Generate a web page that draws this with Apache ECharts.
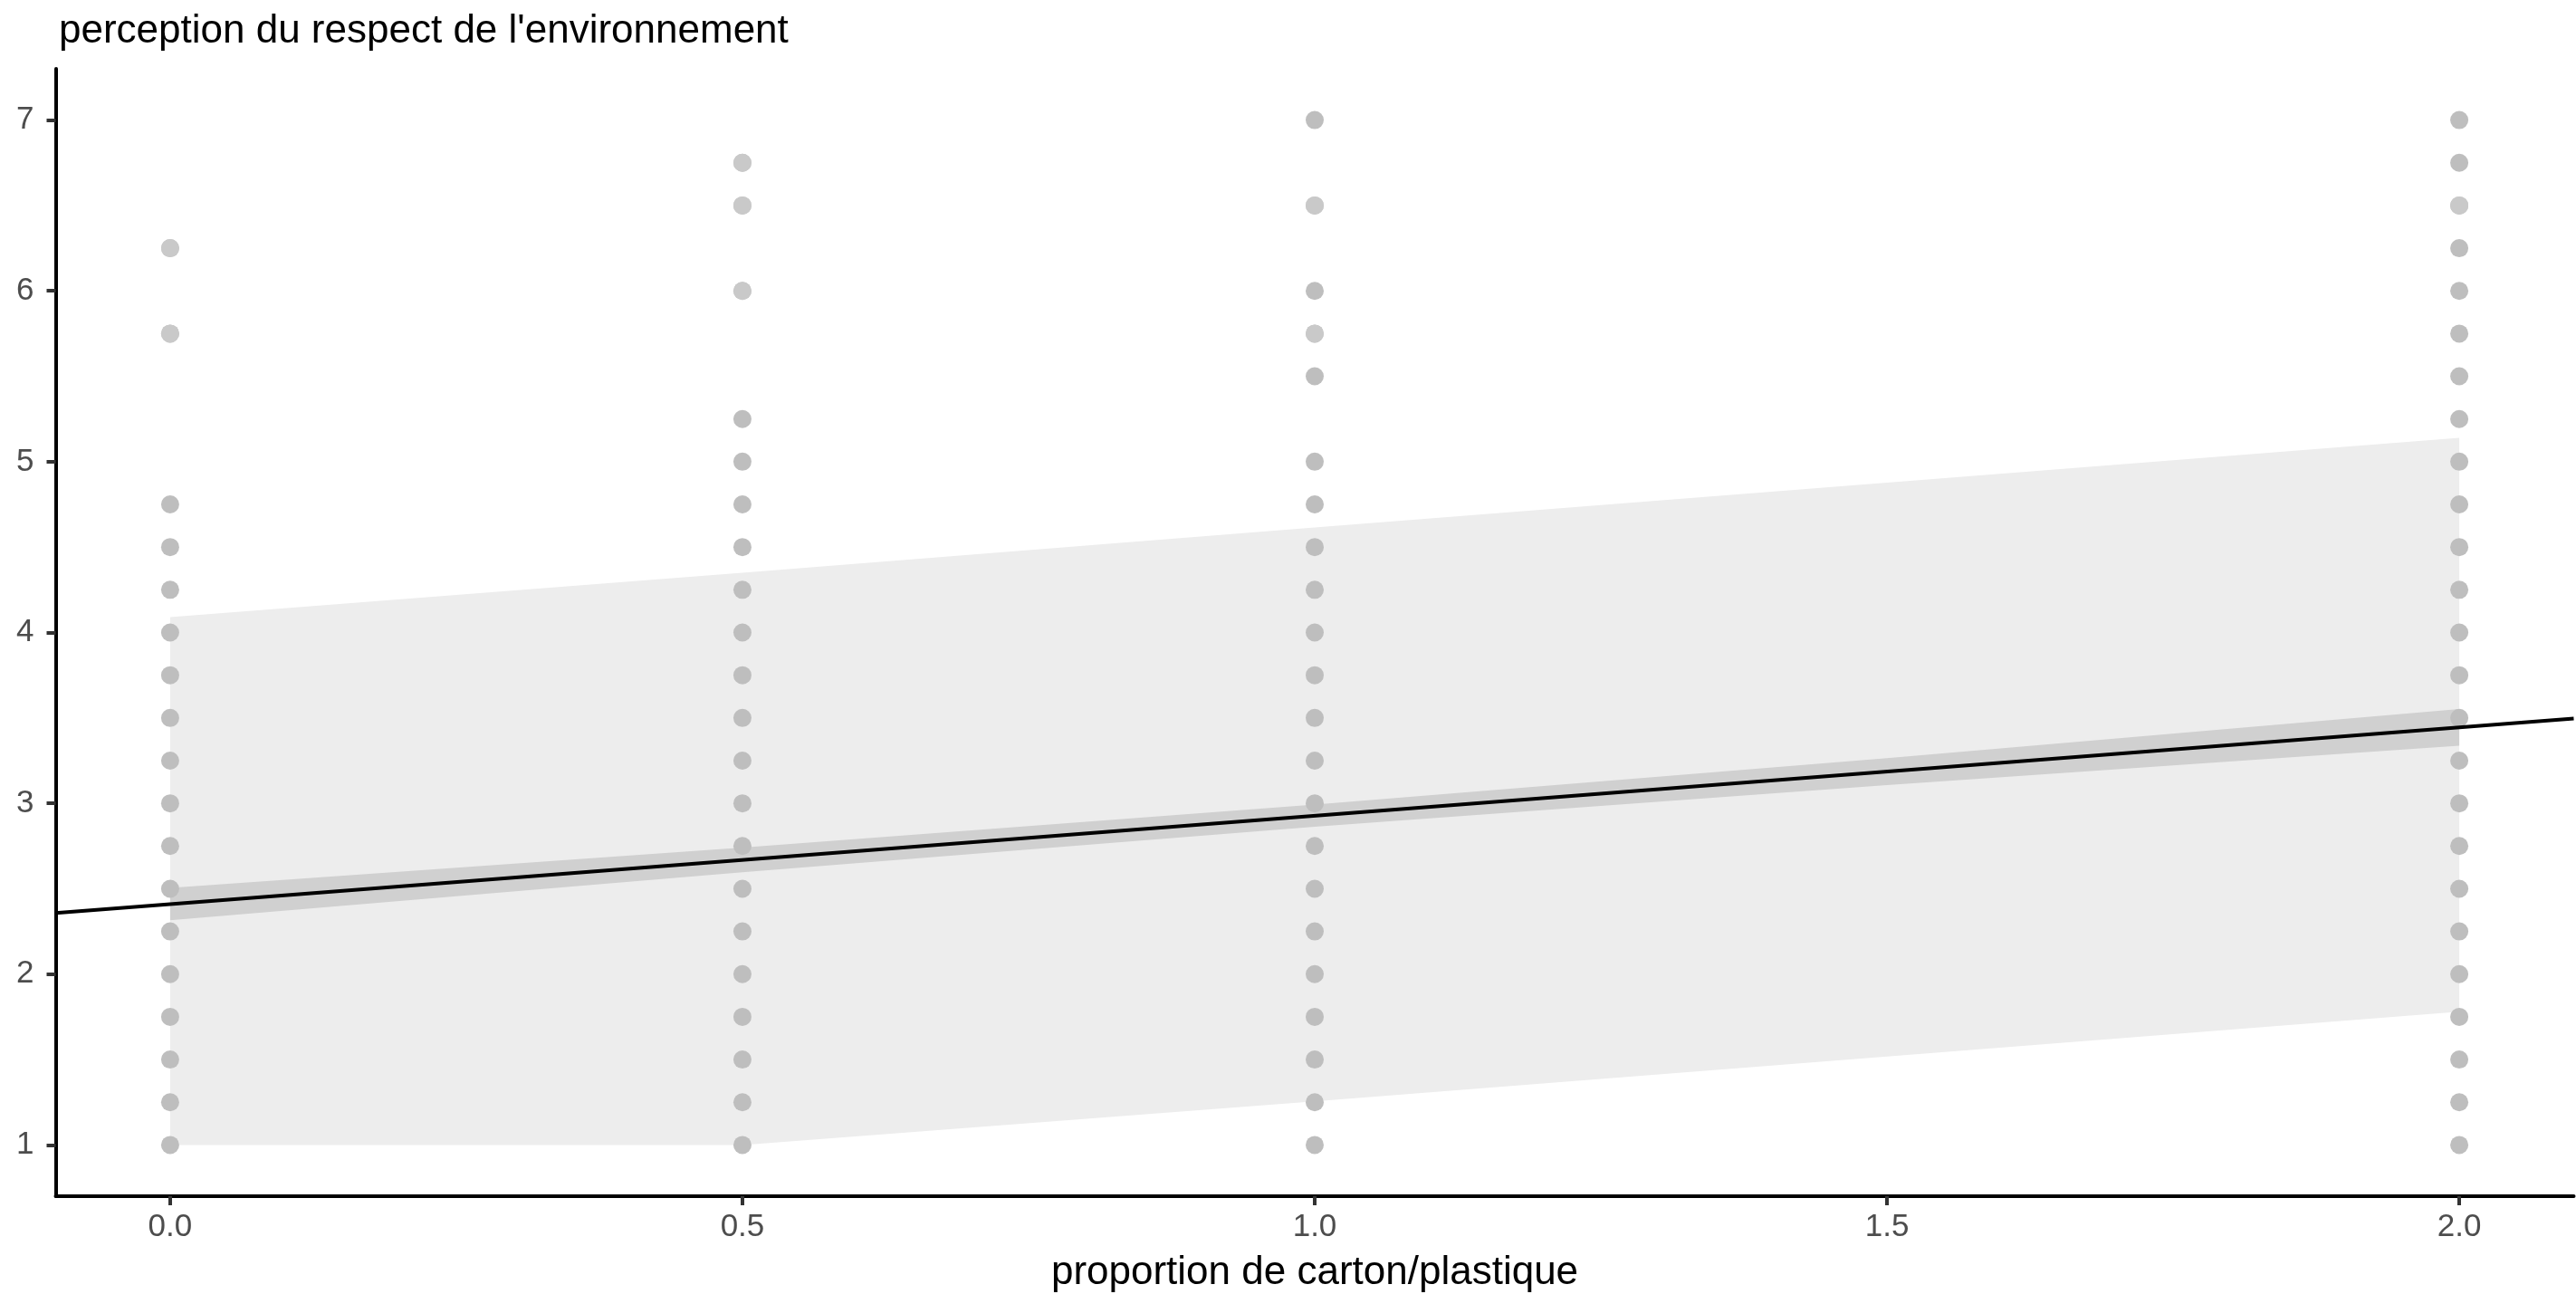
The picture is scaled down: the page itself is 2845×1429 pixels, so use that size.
<!DOCTYPE html>
<html><head><meta charset="utf-8">
<script src="https://cdn.jsdelivr.net/npm/echarts@6/dist/echarts.min.js"></script>
<style>html,body{margin:0;padding:0;background:#fff}#c{width:2845px;height:1429px}</style>
</head><body><div id="c"></div>
<script>
// ---- data ----
const titleText = "perception du respect de l'environnement";
const xTitle = "proportion de carton/plastique";
const xTicks = [0, 0.5, 1, 1.5, 2];
const xTickLabels = ['0.0', '0.5', '1.0', '1.5', '2.0'];
const yTicks = [1, 2, 3, 4, 5, 6, 7];
const yTickLabels = ['1', '2', '3', '4', '5', '6', '7'];

const groupX = [0, 0.5, 1, 2];
const groupAt0 = [6.25, 5.75, 4.75, 4.5, 4.25, 4, 3.75, 3.5, 3.25, 3, 2.75, 2.5, 2.25, 2, 1.75, 1.5, 1.25, 1];
const groupAt05 = [6.75, 6.5, 6, 5.25, 5, 4.75, 4.5, 4.25, 4, 3.75, 3.5, 3.25, 3, 2.75, 2.5, 2.25, 2, 1.75, 1.5, 1.25, 1];
const groupAt1 = [7, 6.5, 6, 5.75, 5.5, 5, 4.75, 4.5, 4.25, 4, 3.75, 3.5, 3.25, 3, 2.75, 2.5, 2.25, 2, 1.75, 1.5, 1.25, 1];
const groupAt2 = [7, 6.75, 6.5, 6.25, 6, 5.75, 5.5, 5.25, 5, 4.75, 4.5, 4.25, 4, 3.75, 3.5, 3.25, 3, 2.75, 2.5, 2.25, 2, 1.75, 1.5, 1.25, 1];
// points that look like single observations (lighter)
const singleX = [0, 0, 0.5, 0.5, 0.5, 1, 1, 2];
const singleY = [6.25, 5.75, 6.75, 6.5, 6, 6.5, 5.75, 6.5];

// prediction band
const predX = [0, 0.5, 1, 2];
const predLow = [1, 1, 1.255, 1.78];
const predHigh = [4.09, 4.35, 4.615, 5.14];
// confidence band
const ciX = [0, 0.5, 1, 1.5, 2];
const ciLow = [2.315, 2.597, 2.863, 3.107, 3.338];
const ciHigh = [2.505, 2.741, 2.993, 3.265, 3.552];
// fitted line (ends at the panel edges)
const fitX = [-0.1, 2.1];
const fitY = [2.358, 3.496];

// ---- chart ----
const FONT = 'Liberation Sans, Arial, Helvetica, sans-serif';
const groups = [groupAt0, groupAt05, groupAt1, groupAt2];
const pts = [];
groups.forEach((g, i) => g.forEach(y => pts.push([groupX[i], y])));
const singles = singleX.map((x, i) => [x, singleY[i]]);

function band(xs, lo, hi, color, z) {
  return {
    type: 'custom', silent: true, z: z, data: [[0, 1]],
    renderItem: (params, api) => {
      const p = [];
      xs.forEach((x, i) => p.push(api.coord([x, hi[i]])));
      for (let i = xs.length - 1; i >= 0; i--) p.push(api.coord([xs[i], lo[i]]));
      return { type: 'polygon', shape: { points: p }, style: { fill: color } };
    }
  };
}

const chart = echarts.init(document.getElementById('c'));
chart.setOption({
  animation: false,
  backgroundColor: '#fff',
  title: {
    text: titleText, left: 60, top: 8,
    textStyle: { fontSize: 44, fontWeight: 'normal', color: '#000', fontFamily: FONT }
  },
  grid: { left: 61.5, right: 2.5, top: 76, bottom: 108, containLabel: false, outerBoundsMode: 'none' },
  xAxis: {
    type: 'value', min: -0.1, max: 2.1,
    name: xTitle, nameLocation: 'middle', nameGap: 63,
    nameTextStyle: { fontSize: 44, color: '#000', fontFamily: FONT },
    axisLine: { onZero: false, lineStyle: { color: '#000', width: 4 } },
    axisTick: { show: true, customValues: xTicks, length: 10, lineStyle: { color: '#333', width: 4 } },
    axisLabel: {
      customValues: xTicks, fontSize: 35, color: '#4d4d4d', margin: 17, fontFamily: FONT,
      formatter: v => { const i = xTicks.findIndex(t => Math.abs(t - v) < 1e-9); return i >= 0 ? xTickLabels[i] : ''; }
    },
    splitLine: { show: false }
  },
  yAxis: {
    type: 'value', min: 0.7, max: 7.3,
    axisLine: { onZero: false, lineStyle: { color: '#000', width: 4 } },
    axisTick: { show: true, customValues: yTicks, length: 10, lineStyle: { color: '#333', width: 4 } },
    axisLabel: {
      customValues: yTicks, fontSize: 35, color: '#4d4d4d', margin: 24, fontFamily: FONT,
      formatter: v => { const i = yTicks.findIndex(t => Math.abs(t - v) < 1e-9); return i >= 0 ? yTickLabels[i] : ''; }
    },
    splitLine: { show: false }
  },
  series: [
    band(predX, predLow, predHigh, '#ededed', 1),
    band(ciX, ciLow, ciHigh, '#d0d0d0', 2),
    { type: 'scatter', z: 3, data: pts, symbolSize: 20, itemStyle: { color: '#bebebe', opacity: 1 }, silent: true },
    { type: 'scatter', z: 4, data: singles, symbolSize: 20, itemStyle: { color: '#c9c9c9', opacity: 1 }, silent: true },
    { type: 'line', z: 5, data: fitX.map((x, i) => [x, fitY[i]]), symbol: 'none',
      lineStyle: { color: '#000', width: 4 }, silent: true }
  ]
});
</script></body></html>
